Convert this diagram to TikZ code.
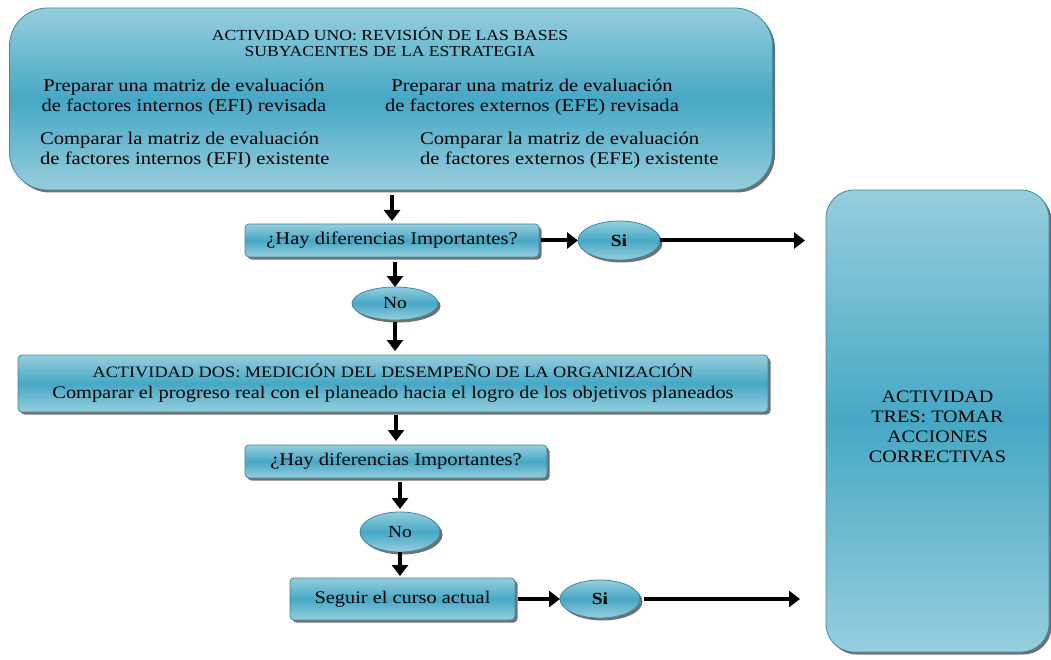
\documentclass[tikz,border=0pt]{standalone}
\usepackage{fontspec}
\setmainfont[FakeStretch=1.15]{Liberation Serif}
\usetikzlibrary{arrows.meta,shapes.geometric,shadows,positioning}
\definecolor{azulclaro}{RGB}{150,206,221}
\definecolor{azulmedio}{RGB}{70,168,197}
\definecolor{azulborde}{RGB}{58,138,163}
\newcommand{\tam}[2]{\fontsize{#1}{#2}\selectfont}
\tikzset{
  caja/.style={draw=azulborde, line width=0.8pt, top color=azulclaro,
    bottom color=azulclaro, middle color=azulmedio, inner sep=0pt, outer sep=0pt,
    drop shadow={shadow xshift=2.5pt, shadow yshift=-2.5pt, fill=black!70, opacity=0.8}},
  bloque/.style={caja, rounded corners=38pt},
  pregunta/.style={caja, rounded corners=4pt, align=center},
  ovalo/.style={caja, ellipse},
  texto/.style={align=center, inner sep=0pt},
  flecha/.style={-{Triangle[length=11pt,width=16pt]}, line width=4pt},
}
\begin{document}
\begin{tikzpicture}[x=1pt,y=-1pt]
    \useasboundingbox (0,0) rectangle (1051,660);

    % Actividad uno
    \node[bloque, minimum width=763pt, minimum height=182pt] (uno) at (391,99) {};
    \node[texto, font=\tam{15.3}{16}] (tituloUno) at (390,42)
        {ACTIVIDAD UNO: REVISIÓN DE LAS BASES\\SUBYACENTES DE LA ESTRATEGIA};
    \node[texto, font=\tam{17.9}{20}] (efiRev) at (184,97)
        {Preparar una matriz de evaluación\\de factores internos (EFI) revisada};
    \node[texto, font=\tam{17.9}{20}] (efeRev) at (532,97)
        {Preparar una matriz de evaluación\\de factores externos (EFE) revisada};
    \node[texto, align=left, anchor=west, font=\tam{17.9}{20}] (efiExist) at (40,150)
        {Comparar la matriz de evaluación\\de factores internos (EFI) existente};
    \node[texto, align=left, anchor=west, font=\tam{17.9}{20}] (efeExist) at (420,150)
        {Comparar la matriz de evaluación\\de factores externos (EFE) existente};

    % Actividad tres
    \node[caja, rounded corners=28pt, minimum width=223pt, minimum height=462pt] (tres) at (937.5,421) {};
    \node[texto, font=\tam{17.5}{20}] (tituloTres) at (937.5,427)
        {ACTIVIDAD\\TRES: TOMAR\\ACCIONES\\CORRECTIVAS};

    % Primera pregunta
    \node[pregunta, minimum width=294pt, minimum height=33pt, font=\tam{17.9}{18}] (preguntaUno) at (392,240.5)
        {¿Hay diferencias Importantes?};
    \node[ovalo, minimum width=82pt, minimum height=39pt, font=\tam{17}{18}\bfseries] (siUno) at (619,240.5) {Si};
    \node[ovalo, minimum width=86pt, minimum height=33pt, font=\tam{17}{18}] (noUno) at (395,303.5) {No};

    % Actividad dos
    \node[pregunta, minimum width=750pt, minimum height=57pt, font=\tam{17.7}{21}] (dos) at (393,383.5)
        {\tam{15.9}{21}ACTIVIDAD DOS: MEDICIÓN DEL DESEMPEÑO DE LA ORGANIZACIÓN\\
         Comparar el progreso real con el planeado hacia el logro de los objetivos planeados};

    % Segunda pregunta
    \node[pregunta, minimum width=302pt, minimum height=33pt, font=\tam{17.9}{18}] (preguntaDos) at (396,461.5)
        {¿Hay diferencias Importantes?};
    \node[ovalo, minimum width=80pt, minimum height=40pt, font=\tam{17}{18}] (noDos) at (400,532) {No};
    \node[pregunta, minimum width=225pt, minimum height=42pt, font=\tam{17.7}{19}] (seguir) at (402.5,599)
        {Seguir el curso actual};
    \node[ovalo, minimum width=80pt, minimum height=38pt, font=\tam{17}{18}\bfseries] (siDos) at (600,599) {Si};

    % Flechas
    \draw[flecha, shorten <=5pt, shorten >=3pt] (uno.south -| preguntaUno.north) -- (preguntaUno.north);
    \draw[flecha, shorten <=2pt] (preguntaUno.east) -- (siUno.west);
    \draw[flecha, shorten >=21pt] (siUno.east) -- (siUno.east -| tres.west);
    \draw[flecha, shorten <=5pt] (preguntaUno.south -| noUno.north) -- (noUno.north);
    \draw[flecha, shorten <=2pt, shorten >=4pt] (noUno.south) -- (noUno.south |- dos.north);
    \draw[flecha, shorten <=3pt, shorten >=4pt] (dos.south -| preguntaDos.north) -- (preguntaDos.north);
    \draw[flecha, shorten <=4pt, shorten >=3pt] (preguntaDos.south -| noDos.north) -- (noDos.north);
    \draw[flecha, shorten >=2pt] (noDos.south) -- (noDos.south |- seguir.north);
    \draw[flecha, shorten <=3pt] (seguir.east) -- (siDos.west);
    \draw[flecha, shorten <=4pt, shorten >=26pt] (siDos.east) -- (siDos.east -| tres.west);
\end{tikzpicture}
\end{document}
